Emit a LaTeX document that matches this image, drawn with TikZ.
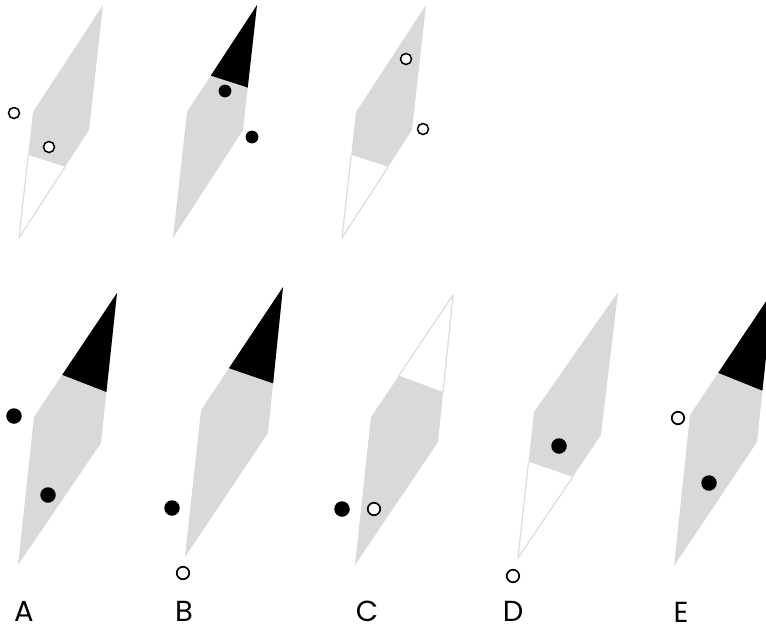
\documentclass[tikz,border=0pt]{standalone}
\usepackage{fontspec}
\setmainfont{Poppins}
\usetikzlibrary{calc}
\definecolor{lightgr}{HTML}{D9D9D9}
\definecolor{rim}{HTML}{DEDEDE}
\tikzset{
  opendotS/.style={circle,draw=black,fill=white,line width=1.5pt,minimum size=11pt,inner sep=0pt},
  opendotL/.style={circle,draw=black,fill=white,line width=1.7pt,minimum size=12.5pt,inner sep=0pt},
  fulldotS/.style={circle,fill=black,minimum size=12.8pt,inner sep=0pt},
  fulldotL/.style={circle,fill=black,minimum size=15.5pt,inner sep=0pt},
  lab/.style={font=\fontsize{29}{30}\selectfont,inner sep=0pt},
  grayfill/.style={fill=lightgr},
  tipfill/.style={fill=black},
  rimline/.style={draw=rim,line width=1.3pt,line join=round}
}
% #1 T, #2 L, #3 R, #4 B, #5 prefix
\newcommand{\quadpts}[5]{%
  \coordinate (#5T) at #1; \coordinate (#5L) at #2;
  \coordinate (#5R) at #3; \coordinate (#5B) at #4;
  \coordinate (#5ta) at ($(#5T)!0.66!(#5L)$);
  \coordinate (#5tb) at ($(#5T)!0.66!(#5R)$);
  \coordinate (#5ba) at ($(#5B)!0.66!(#5L)$);
  \coordinate (#5bb) at ($(#5B)!0.66!(#5R)$);}
% black tip on top
\newcommand{\blacktop}[1]{\path[grayfill] (#1T) -- (#1R) -- (#1B) -- (#1L) -- cycle;
  \path[tipfill] (#1T) -- (#1tb) -- (#1ta) -- cycle;}
% white tip on top
\newcommand{\whitetop}[1]{\path[grayfill] (#1ta) -- (#1tb) -- (#1R) -- (#1B) -- (#1L) -- cycle;
  \path[rimline] (#1ta) -- (#1T) -- (#1tb);}
% white tip at bottom
\newcommand{\whitebot}[1]{\path[grayfill] (#1T) -- (#1R) -- (#1bb) -- (#1ba) -- (#1L) -- cycle;
  \path[rimline] (#1ba) -- (#1B) -- (#1bb);}
\begin{document}
\begin{tikzpicture}[x=1pt,y=-1pt]
\useasboundingbox (0,0) rectangle (766,630);
\clip (0,0) rectangle (766,630);
% top row
\quadpts{(103,5)}{(33,112)}{(89,130)}{(19,238)}{p}
\whitebot{p}
\node[opendotS] (p1) at (14,113) {};
\node[opendotS] (p2) at (49,147) {};
\quadpts{(257,5)}{(187,112)}{(243,130)}{(173,238)}{q}
\blacktop{q}
\node[fulldotS] (q1) at (225,91) {};
\node[fulldotS] (q2) at (252,137) {};
\quadpts{(426,5)}{(356,112)}{(412,130)}{(342,238)}{r}
\whitebot{r}
\node[opendotS] (r1) at (406,59) {};
\node[opendotS] (r2) at (423,129) {};
% bottom row
\quadpts{(117,293)}{(34,417)}{(101,443)}{(18,565)}{a}
\blacktop{a}
\node[fulldotL] (a1) at (14,416) {};
\node[fulldotL] (a2) at (48,495) {};
\quadpts{(283,287)}{(201,410)}{(268,433)}{(185,557)}{b}
\blacktop{b}
\node[fulldotL] (b1) at (172,508) {};
\node[opendotL] (b2) at (183,573) {};
\quadpts{(453,295)}{(371,417)}{(438,442)}{(355,565)}{c}
\whitetop{c}
\node[fulldotL] (c1) at (342,509) {};
\node[opendotL] (c2) at (374,509) {};
\quadpts{(618,292)}{(534,412)}{(601,435)}{(518,558)}{d}
\whitebot{d}
\node[fulldotL] (d1) at (559,446) {};
\node[opendotL] (d2) at (513,576) {};
\quadpts{(773,291)}{(690,415)}{(757,442)}{(674,566)}{e}
\blacktop{e}
\node[opendotL] (e1) at (678,418) {};
\node[fulldotL] (e2) at (709,483) {};
% labels
\node[lab] (la) at (24,611) {A};
\node[lab] (lb) at (184,611) {B};
\node[lab] (lc) at (367,611) {C};
\node[lab] (ld) at (513,611) {D};
\node[lab] (le) at (681,612) {E};
\end{tikzpicture}
\end{document}
